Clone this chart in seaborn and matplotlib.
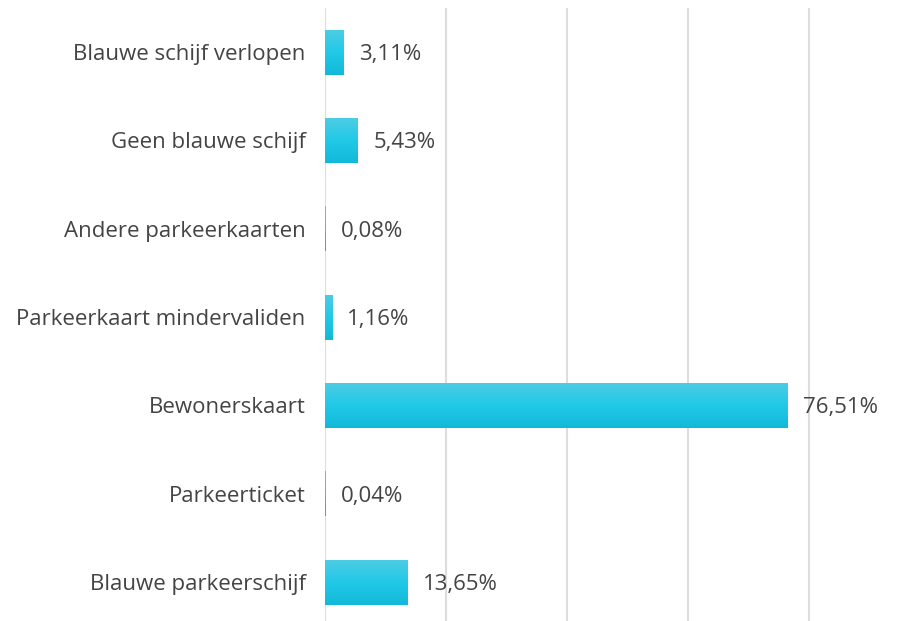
import numpy as np
import pandas as pd
import seaborn as sns
import matplotlib.pyplot as plt
from matplotlib.colors import LinearSegmentedColormap

# data (percentages)
categories = [
    'Blauwe schijf verlopen',
    'Geen blauwe schijf',
    'Andere parkeerkaarten',
    'Parkeerkaart mindervaliden',
    'Bewonerskaart',
    'Parkeerticket',
    'Blauwe parkeerschijf',
]
percentages = [3.11, 5.43, 0.08, 1.16, 76.51, 0.04, 13.65]

df = pd.DataFrame({'categorie': categories, 'pct': percentages})

sns.set_theme(style='white')
plt.rcParams['font.family'] = ['Open Sans', 'DejaVu Sans']

fig = plt.figure(figsize=(9.21, 6.21), dpi=100)
ax = fig.add_axes([325 / 921, 0.0, 1 - 325 / 921, 1 - 8 / 621])

sns.barplot(data=df, x='pct', y='categorie', orient='h', width=0.51,
            color='#1ec8e6', ax=ax)

ax.grid(axis='x', color='#dddddd', linewidth=1.5)
ax.grid(axis='y', visible=False)
ax.set_axisbelow(True)
for s in ax.spines.values():
    s.set_visible(False)
ax.set_xlabel('')
ax.set_ylabel('')
ax.set_xticks([0, 20, 40, 60, 80])
ax.set_xticklabels([])
ax.tick_params(axis='y', length=0, pad=14, labelsize=16, labelcolor='#444444')
ax.tick_params(axis='x', length=0)
for lbl in ax.get_yticklabels():
    lbl.set_verticalalignment('center_baseline')

# vertical gradient fill for the bars
cmap = LinearSegmentedColormap.from_list('bar', ['#4fcce4', '#22c9e7', '#12b8d8'])
grad = np.linspace(0, 1, 256).reshape(-1, 1)
for patch in ax.patches:
    x0, y0 = patch.get_x(), patch.get_y()
    w, h = patch.get_width(), patch.get_height()
    if w <= 0:
        continue
    im = ax.imshow(grad, cmap=cmap, aspect='auto', interpolation='bicubic',
                   extent=[x0, x0 + w, y0 + h, y0], zorder=2)
    im.set_clip_path(patch)
    patch.set_facecolor('none')
    patch.set_edgecolor('none')
ax.set_xlim(0, 98.5)
ax.set_ylim(6.44, -0.5)

# value labels with comma decimals
for i, v in enumerate(percentages):
    ax.annotate(f'{v:.2f}%'.replace('.', ','), xy=(v, i), xytext=(11, 0),
                textcoords='offset points', ha='left', va='center_baseline',
                fontsize=16, color='#444444')

fig.savefig('out.png', dpi=100)
